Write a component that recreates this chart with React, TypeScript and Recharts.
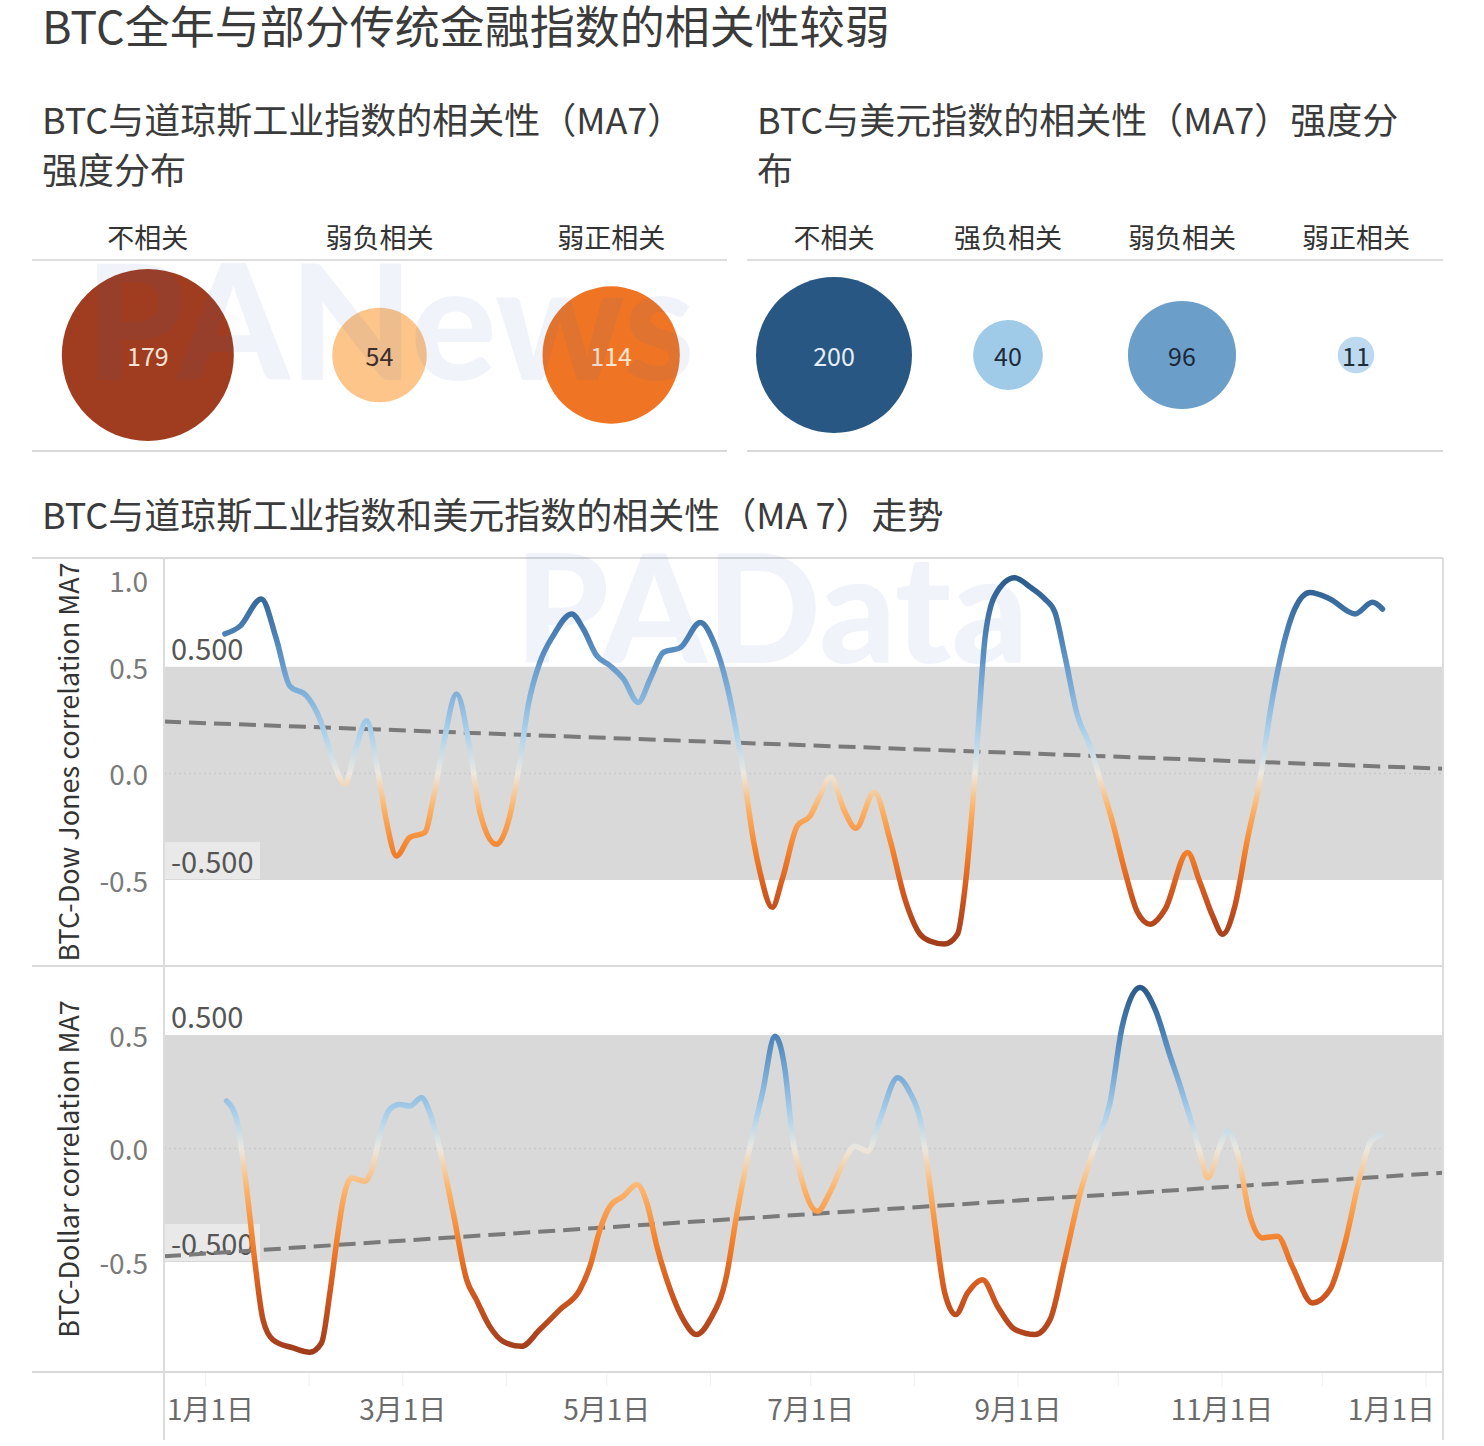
import React from "react";
import {
  ScatterChart,
  Scatter,
  XAxis,
  YAxis,
  ZAxis,
  LineChart,
  Line,
  ReferenceArea,
  ReferenceLine,
} from "recharts";

const FONT = '"Noto Sans CJK SC", "Noto Sans", sans-serif';

// bubble panels
const dowCategories = ["不相关", "弱负相关", "弱正相关"];
const dowCounts = [179, 54, 114];
const dollarCategories = ["不相关", "强负相关", "弱负相关", "弱正相关"];
const dollarCounts = [200, 40, 96, 11];

const dowBubbleFill = ["#a03c1f", "#fdc58a", "#ef7524"];
const dowBubbleText = ["#f6e4d6", "#3b2a20", "#fbe6d2"];
const dollarBubbleFill = ["#295783", "#a0cbe8", "#6b9fc9", "#bcd9ef"];
const dollarBubbleText = ["#e6eef7", "#1e2b3a", "#1c2838", "#1e2b3a"];

// MA7 correlation, x = days since Jan 1
const dowDays = [
  5.8, 10.3, 16.7, 21.2, 25.2, 30.2, 34.2, 38, 41.7, 44.7, 48.2, 51.6, 54.2, 57.1, 61.1, 65.6, 68.1, 71.1,
  75.1, 79.1, 82.1, 87, 91, 94, 96.5, 100, 104, 109.5, 113, 117, 121, 125, 129.4, 133, 137, 142, 148, 152,
  156, 159, 161, 164, 165.8, 169.5, 172.5, 177, 180.8, 183.8, 187, 191.2, 194.5, 200, 204.7, 209.2, 213.7,
  216.6, 221, 224.9, 227.1, 229.4, 230.9, 233.1, 236.1, 242, 246.6, 251, 254, 257, 260.8, 264.5, 267.5,
  271.3, 275, 278.7, 282.5, 287, 293.7, 297.4, 301.2, 304.2, 307.9, 311.6, 315.4, 318.4, 322.1, 325.8,
  330.3, 336.3, 343.8, 349, 352,
];
const dowValues = [
  0.654, 0.69, 0.818, 0.63, 0.41, 0.364, 0.255, 0.067, -0.05, 0.1, 0.247, 0.006, -0.23, -0.387, -0.3,
  -0.277, -0.12, 0.13, 0.372, 0.114, -0.183, -0.332, -0.2, 0.052, 0.317, 0.52, 0.646, 0.748, 0.677, 0.552,
  0.505, 0.443, 0.333, 0.443, 0.568, 0.59, 0.708, 0.615, 0.411, 0.176, -0.011, -0.324, -0.46, -0.628,
  -0.496, -0.246, -0.2, -0.105, -0.018, -0.18, -0.257, -0.088, -0.31, -0.59, -0.754, -0.786, -0.8, -0.754,
  -0.543, -0.152, 0.161, 0.63, 0.834, 0.917, 0.874, 0.818, 0.757, 0.552, 0.27, 0.13, -0.027, -0.23, -0.46,
  -0.65, -0.707, -0.637, -0.371, -0.51, -0.668, -0.754, -0.62, -0.31, -0.027, 0.288, 0.584, 0.772, 0.848,
  0.818, 0.748, 0.802, 0.771,
];

const dollarDays = [
  6.3, 9.3, 10.8, 12.7, 14.7, 17.2, 20.2, 26.2, 31.2, 34.7, 37.2, 39.2, 41.2, 43.7, 47.7, 50.1, 52.1, 55.1,
  58.1, 61.1, 64.6, 67.1, 70.1, 74.1, 78.1, 81, 85, 89, 94.5, 100, 106, 112, 115, 118, 121, 125, 129, 132,
  135, 139, 142.9, 146.9, 150.9, 155.8, 158.8, 161.8, 166.6, 170.3, 173.3, 175.5, 177.8, 183, 186.7, 191.2,
  194.2, 198, 201.7, 207, 210.7, 213.7, 215.9, 218.2, 221.1, 224.4, 227.9, 232.4, 236.9, 242.1, 248.1,
  252.6, 257, 261.6, 266, 270.5, 274.2, 279.5, 284, 288.5, 291.5, 295.2, 297.4, 299.7, 303.4, 305.6, 308.6,
  312.4, 316.1, 320.6, 325, 331.1, 336.3, 340.8, 345.3, 348.3, 351.6,
];
const dollarValues = [
  0.209, 0.128, -0.004, -0.225, -0.49, -0.754, -0.843, -0.879, -0.898, -0.857, -0.637, -0.416, -0.225,
  -0.13, -0.144, -0.078, 0.054, 0.172, 0.194, 0.187, 0.224, 0.157, -0.004, -0.284, -0.578, -0.666, -0.784,
  -0.85, -0.872, -0.798, -0.71, -0.622, -0.519, -0.357, -0.254, -0.21, -0.159, -0.24, -0.431, -0.622,
  -0.754, -0.82, -0.754, -0.563, -0.299, -0.063, 0.246, 0.495, 0.348, 0.054, -0.107, -0.277, -0.195,
  -0.049, 0.01, -0.012, 0.128, 0.312, 0.246, 0.128, -0.078, -0.343, -0.637, -0.732, -0.637, -0.578, -0.696,
  -0.798, -0.82, -0.754, -0.49, -0.195, 0.01, 0.2, 0.54, 0.709, 0.613, 0.407, 0.275, 0.098, -0.019, -0.129,
  0.01, 0.076, -0.019, -0.299, -0.394, -0.387, -0.519, -0.681, -0.622, -0.416, -0.122, 0.025, 0.062,
];

// trend line values at the left / right edge of the x range
const dowTrend = [0.243, 0.022];
const dollarTrend = [-0.475, -0.107];

const monthTicks = [0, 31, 59, 90, 120, 151, 181, 212, 243, 273, 304, 334, 365];
const monthLabels = ["1月1日", "", "3月1日", "", "5月1日", "", "7月1日", "", "9月1日", "", "11月1日", "", "1月1日"];
const dowTicks = [-0.5, 0, 0.5, 1];
const dollarTicks = [-0.5, 0, 0.5];

const X_DOMAIN: [number, number] = [-12.4, 370.1];

const toRows = (days: number[], values: number[]) => days.map((d, i) => ({ day: d, value: values[i] }));
const dowData = toRows(dowDays, dowValues);
const dollarData = toRows(dollarDays, dollarValues);

// orange-blue diverging, t in [-1, 1]
const colorAnchors: [number, number[]][] = [
  [-1, [160, 60, 28]],
  [-0.7, [210, 88, 31]],
  [-0.45, [243, 130, 45]],
  [-0.2, [252, 180, 106]],
  [0, [236, 232, 224]],
  [0.2, [173, 210, 236]],
  [0.45, [120, 170, 214]],
  [0.7, [77, 131, 184]],
  [1, [43, 91, 138]],
];

function colorAt(t: number) {
  t = Math.max(-1, Math.min(1, t));
  for (let i = 0; i < colorAnchors.length - 1; i++) {
    const [t0, c0] = colorAnchors[i];
    const [t1, c1] = colorAnchors[i + 1];
    if (t >= t0 && t <= t1) {
      const f = (t - t0) / (t1 - t0);
      const c = c0.map((v, k) => Math.round(v + (c1[k] - v) * f));
      return `rgb(${c[0]},${c[1]},${c[2]})`;
    }
  }
  return "rgb(236,232,224)";
}

function gradientStops(values: number[]) {
  const max = Math.max(...values);
  const min = Math.min(...values);
  const n = 60;
  const stops = [];
  for (let i = 0; i <= n; i++) {
    const v = max - ((max - min) * i) / n;
    const t = v >= 0 ? v / max : v / Math.abs(min);
    stops.push(<stop key={i} offset={`${(i / n) * 100}%`} stopColor={colorAt(t)} />);
  }
  return stops;
}

const HeaderTick = (props: any) => (
  <text
    x={props.x}
    y={props.y - 24}
    textAnchor="middle"
    dominantBaseline="central"
    fontSize={27}
    fill="#333"
    fontFamily={FONT}
  >
    {props.payload.value}
  </text>
);

const makeBubble = (categories: string[], fills: string[], texts: string[]) => (props: any) => {
  const { cx, cy, size, payload } = props;
  const i = categories.indexOf(payload.name);
  const r = Math.sqrt((size || 0) / Math.PI);
  return (
    <g>
      <circle cx={cx} cy={cy} r={r} fill={fills[i]} />
      <text
        x={cx}
        y={cy}
        textAnchor="middle"
        dominantBaseline="central"
        fontSize={25}
        fill={texts[i]}
        fontFamily={FONT}
      >
        {payload.count}
      </text>
    </g>
  );
};

function BubblePanel({
  categories,
  counts,
  fills,
  texts,
  maxRadius,
  width,
}: {
  categories: string[];
  counts: number[];
  fills: string[];
  texts: string[];
  maxRadius: number;
  width: number;
}) {
  const data = categories.map((name, i) => ({ name, count: counts[i], y: 0 }));
  const max = Math.max(...counts);
  return (
    <ScatterChart width={width} height={262} margin={{ top: 0, right: 0, bottom: 2, left: 0 }}>
      <XAxis
        type="category"
        dataKey="name"
        orientation="top"
        height={70}
        tickSize={0}
        tickMargin={0}
        tickLine={false}
        axisLine={{ stroke: "#dedede", strokeWidth: 2 }}
        tick={<HeaderTick />}
        interval={0}
      />
      <YAxis type="number" dataKey="y" domain={[-1, 1]} hide />
      <ZAxis type="number" dataKey="count" domain={[0, max]} range={[0, Math.PI * maxRadius * maxRadius]} />
      <Scatter data={data} isAnimationActive={false} shape={makeBubble(categories, fills, texts)} />
    </ScatterChart>
  );
}

const YTick = (props: any) => {
  const { y, payload } = props;
  return (
    <text
      x={116}
      y={Math.max(y, 22)}
      textAnchor="end"
      dominantBaseline="central"
      fontSize={28}
      fill="#7a7a7a"
      fontFamily={FONT}
    >
      {Number(payload.value).toFixed(1)}
    </text>
  );
};

const AxisTitle = (props: any) => {
  const vb = props.viewBox || {};
  const cx = (vb.x ?? 0) + 35;
  const cy = (vb.y ?? 0) + (vb.height ?? 0) / 2;
  return (
    <text
      x={cx}
      y={cy}
      transform={`rotate(-90 ${cx} ${cy})`}
      textAnchor="middle"
      dominantBaseline="central"
      fontSize={27}
      fill="#333"
      fontFamily={FONT}
    >
      {props.text}
    </text>
  );
};

const BandLabel = (props: any) => {
  const vb = props.viewBox || {};
  const x = vb.x ?? 0;
  const y = vb.y ?? 0;
  return (
    <g>
      {props.boxed && <rect x={x} y={y - 38} width={96} height={37} fill="#ececec" fillOpacity={0.8} />}
      <text x={x + 7} y={y - 20} dominantBaseline="central" fontSize={29} fill="#555" fontFamily={FONT}>
        {props.text}
      </text>
    </g>
  );
};

const MonthTick = (props: any) => {
  const { x, y, payload } = props;
  const i = monthTicks.indexOf(payload.value);
  const label = monthLabels[i] || "";
  if (!label) return <g />;
  const last = i === monthTicks.length - 1;
  return (
    <text
      x={last ? x + 9 : i === 0 ? x + 5 : x}
      y={y + 20}
      textAnchor={last ? "end" : "middle"}
      dominantBaseline="central"
      fontSize={28}
      fill="#6b6b6b"
      fontFamily={FONT}
    >
      {label}
    </text>
  );
};

function CorrelationPanel({
  id,
  data,
  values,
  domain,
  ticks,
  trend,
  title,
  height,
  showX,
}: {
  id: string;
  data: { day: number; value: number }[];
  values: number[];
  domain: [number, number];
  ticks: number[];
  trend: number[];
  title: string;
  height: number;
  showX: boolean;
}) {
  return (
    <LineChart width={1411} height={height} data={data} margin={{ top: 0, right: 0, bottom: 0, left: 0 }}>
      <defs>
        <linearGradient id={id} x1="0" y1="0" x2="0" y2="1">
          {gradientStops(values)}
        </linearGradient>
      </defs>
      <XAxis
        type="number"
        dataKey="day"
        domain={X_DOMAIN}
        allowDataOverflow
        ticks={monthTicks}
        interval={0}
        hide={!showX}
        height={74}
        axisLine={false}
        tickSize={14}
        tickMargin={2}
        tickLine={{ stroke: "#f0f0f0" }}
        tick={<MonthTick />}
      />
      <YAxis
        type="number"
        domain={domain}
        allowDataOverflow
        ticks={ticks}
        interval={0}
        width={132}
        axisLine={false}
        tickLine={false}
        tick={<YTick />}
        label={<AxisTitle text={title} />}
      />
      <ReferenceArea y1={-0.5} y2={0.5} fill="#d9d9d9" fillOpacity={1} stroke="none" />
      <ReferenceLine y={0} stroke="#c9c9c9" strokeWidth={1.5} strokeDasharray="2 3" />
      <ReferenceLine y={0.5} stroke="#d9d9d9" strokeOpacity={0} label={<BandLabel text="0.500" />} />
      <ReferenceLine y={-0.5} stroke="#d9d9d9" strokeOpacity={0} label={<BandLabel text="-0.500" boxed />} />
      <ReferenceLine
        segment={[
          { x: X_DOMAIN[0], y: trend[0] },
          { x: X_DOMAIN[1], y: trend[1] },
        ]}
        stroke="#7a7a7a"
        strokeWidth={4}
        strokeDasharray="17 8"
      />
      <Line
        type="monotone"
        dataKey="value"
        stroke={`url(#${id})`}
        strokeWidth={5.5}
        strokeLinecap="round"
        dot={false}
        activeDot={false}
        isAnimationActive={false}
      />
    </LineChart>
  );
}

const abs = (left: number, top: number, extra: React.CSSProperties = {}): React.CSSProperties => ({
  position: "absolute",
  left,
  top,
  ...extra,
});

const hLine = (x1: number, x2: number, y: number) => (
  <div style={abs(x1, y - 1, { width: x2 - x1, height: 2, background: "#d9d9d9" })} />
);
const vLine = (x: number, y1: number, y2: number) => (
  <div style={abs(x - 1, y1, { width: 2, height: y2 - y1, background: "#dcdcdc" })} />
);

export default function App() {
  const titleStyle: React.CSSProperties = { fontFamily: FONT, color: "#3b3b3b", whiteSpace: "nowrap" };
  return (
    <div
      style={{
        position: "absolute",
        left: 0,
        top: 0,
        width: 1484,
        height: 1446,
        background: "#fff",
        overflow: "hidden",
        fontFamily: FONT,
      }}
    >
      <div style={abs(42, 2, { ...titleStyle, fontSize: 45, lineHeight: "46px" })}>
        BTC全年与部分传统金融指数的相关性较弱
      </div>

      <div style={abs(42, 93, { ...titleStyle, fontSize: 36, lineHeight: "50px" })}>
        BTC与道琼斯工业指数的相关性（MA7）
        <br />
        强度分布
      </div>
      <div style={abs(757, 93, { ...titleStyle, fontSize: 36, lineHeight: "50px" })}>
        BTC与美元指数的相关性（MA7）强度分
        <br />布
      </div>

      <div style={abs(32, 190)}>
        <BubblePanel
          categories={dowCategories}
          counts={dowCounts}
          fills={dowBubbleFill}
          texts={dowBubbleText}
          maxRadius={86}
          width={695}
        />
      </div>
      <div style={abs(747, 190)}>
        <BubblePanel
          categories={dollarCategories}
          counts={dollarCounts}
          fills={dollarBubbleFill}
          texts={dollarBubbleText}
          maxRadius={78}
          width={696}
        />
      </div>
      {hLine(32, 727, 451)}
      {hLine(747, 1443, 451)}

      <div style={abs(42, 488, { ...titleStyle, fontSize: 36, lineHeight: "50px" })}>
        BTC与道琼斯工业指数和美元指数的相关性（MA 7）走势
      </div>

      <div style={abs(32, 558)}>
        <CorrelationPanel
          id="dowGrad"
          data={dowData}
          values={dowValues}
          domain={[-0.903, 1.01]}
          ticks={dowTicks}
          trend={dowTrend}
          title="BTC-Dow Jones correlation MA7"
          height={408}
          showX={false}
        />
      </div>
      <div style={abs(32, 966)}>
        <CorrelationPanel
          id="dollarGrad"
          data={dollarData}
          values={dollarValues}
          domain={[-0.985, 0.804]}
          ticks={dollarTicks}
          trend={dollarTrend}
          title="BTC-Dollar correlation MA7"
          height={480}
          showX
        />
      </div>

      {hLine(32, 1443, 558)}
      {hLine(32, 1443, 966)}
      {hLine(32, 1443, 1372)}
      {vLine(164, 558, 1440)}
      {vLine(1443, 558, 1440)}

      <div
        style={abs(85, 238, {
          fontFamily: "Lato, sans-serif",
          fontWeight: 900,
          fontSize: 160,
          lineHeight: "160px",
          color: "rgba(70,100,190,0.08)",
          pointerEvents: "none",
        })}
      >
        PANews
      </div>
      <div
        style={abs(515, 530, {
          fontFamily: "Lato, sans-serif",
          fontWeight: 900,
          fontSize: 150,
          lineHeight: "150px",
          color: "rgba(70,100,190,0.08)",
          pointerEvents: "none",
        })}
      >
        PAData
      </div>
    </div>
  );
}
